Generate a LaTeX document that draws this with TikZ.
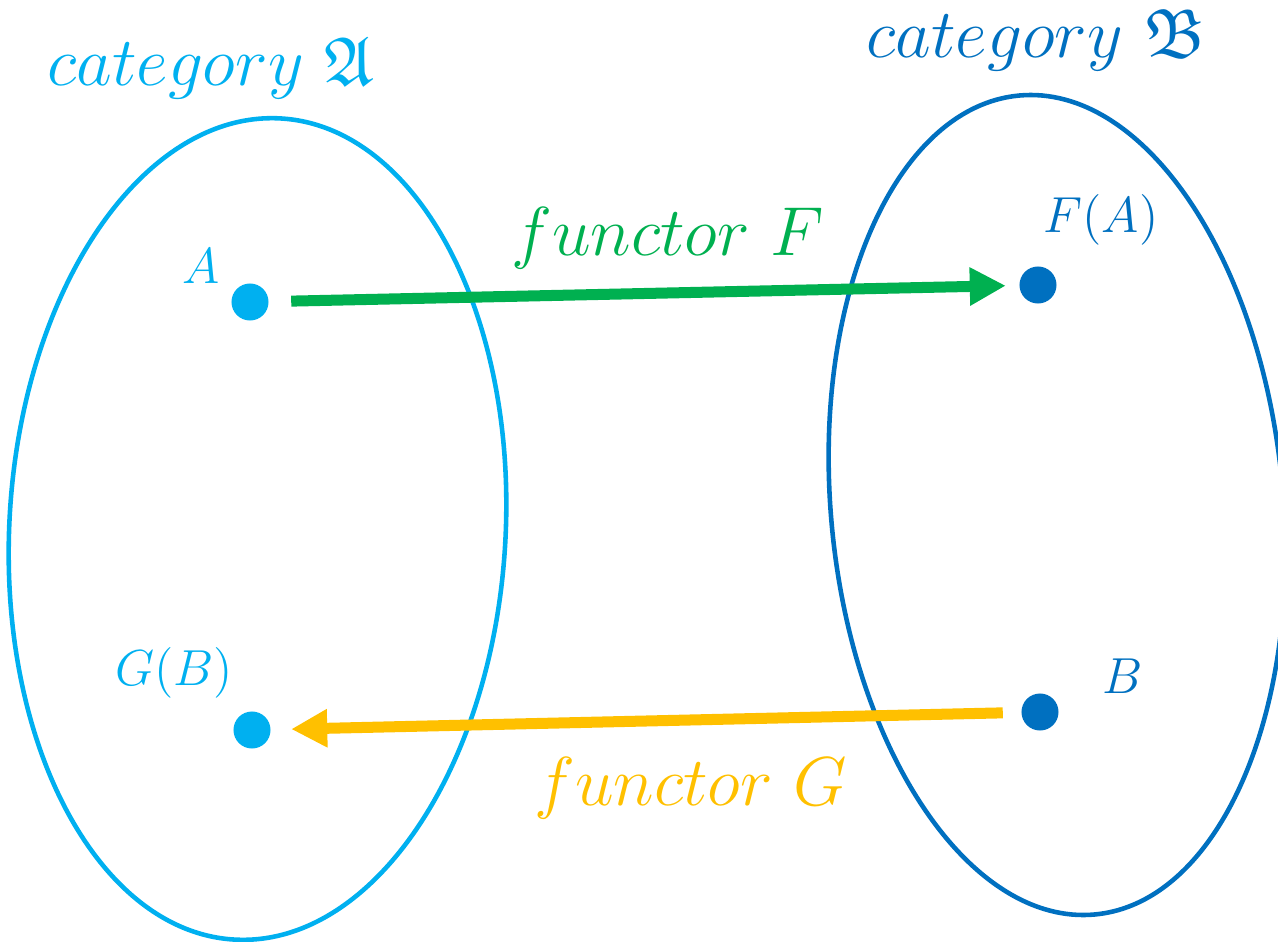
\documentclass[tikz,border=0pt]{standalone}
\usepackage{amsmath,amssymb,amsfonts}
\usepackage{tikz}
\usetikzlibrary{arrows.meta,positioning}
\usepackage{xcolor}
\definecolor{catlight}{HTML}{00B0F0}
\definecolor{catdark}{HTML}{0070C0}
\definecolor{funcgreen}{HTML}{00B050}
\definecolor{funcyellow}{HTML}{FFC000}

\begin{document}
\begin{tikzpicture}[x=0.01cm, y=-0.01cm,
    catline/.style={line width=1.3pt},
    obj/.style={circle, minimum size=0.37cm, inner sep=0pt},
    biglbl/.style={inner sep=0pt, anchor=base, font=\huge, scale=0.95, transform shape},
    objlbl/.style={inner sep=0pt, anchor=base, font=\Large},
    funcarr/.style={-{Triangle[length=0.36cm, width=0.36cm]}, line width=0.11cm}
]
\useasboundingbox (0,0) rectangle (1278,942);

% the two categories
\draw[catline, catlight, rotate around={-3.2:(257.5,529)}]
  (257.5,529) ellipse [x radius=2.48cm, y radius=4.11cm];
\draw[catline, catdark, rotate around={5.3:(1057,505)}]
  (1057,505) ellipse [x radius=2.26cm, y radius=4.11cm];

\node[biglbl, text=catlight] (tA) at (211,85) {$category\ \mathfrak{A}$};
\node[biglbl, text=catdark]  (tB) at (1036,57) {$category\ \mathfrak{B}$};

% objects
\node[obj, fill=catlight] (a)  at (250,302)  {};
\node[obj, fill=catlight] (gb) at (252,730)  {};
\node[obj, fill=catdark]  (fa) at (1038,285) {};
\node[obj, fill=catdark]  (b)  at (1040,712) {};

\node[objlbl, text=catlight] (la)  at (201,283)  {$A$};
\node[objlbl, text=catlight] (lgb) at (174,685)  {$G(B)$};
\node[objlbl, text=catdark]  (lfa) at (1101,232) {$F(A)$};
\node[objlbl, text=catdark]  (lb)  at (1123,693) {$B$};

% functors
\draw[funcarr, funcgreen, shorten <=0.22cm, shorten >=0.13cm] (a) -- (fa);
\draw[funcarr, funcyellow, shorten <=0.18cm, shorten >=0.2cm] (b) -- (gb);

\node[biglbl, text=funcgreen]  (fF) at (668,255) {$functor\ F$};
\node[biglbl, text=funcyellow] (fG) at (691,805) {$functor\ G$};
\end{tikzpicture}
\end{document}
